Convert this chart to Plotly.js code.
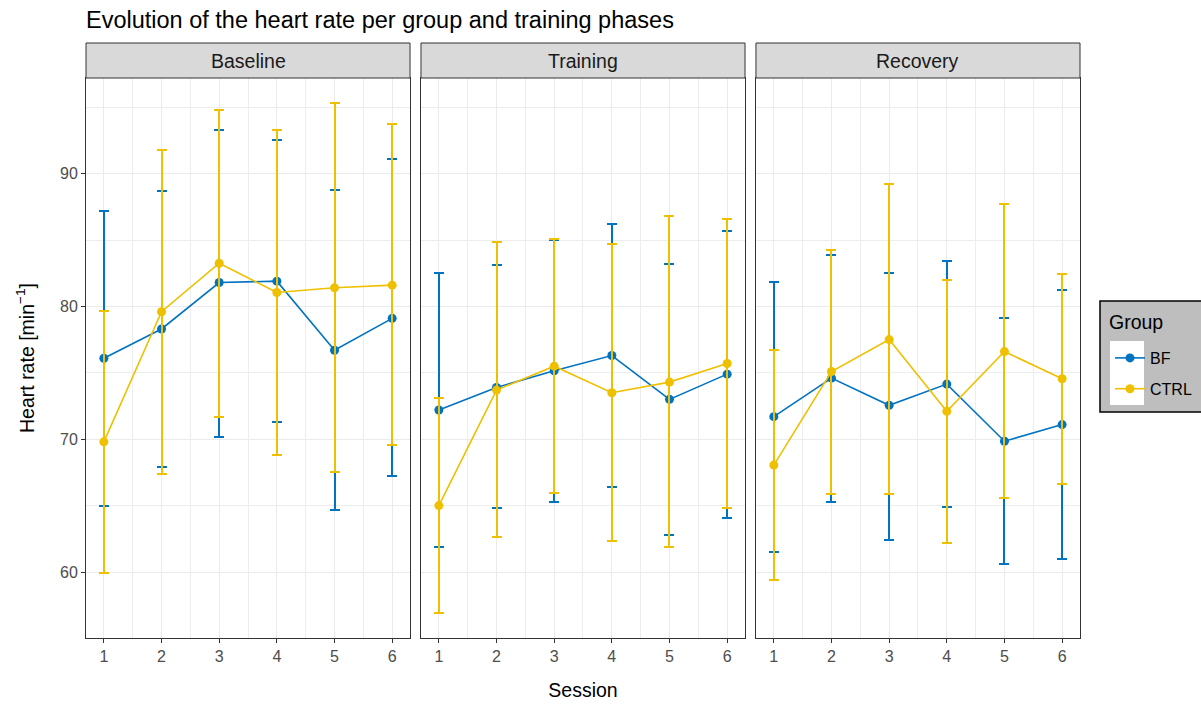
<!DOCTYPE html>
<html>
<head>
<meta charset="utf-8">
<script src="https://cdn.plot.ly/plotly-3.0.1.min.js"></script>
<style>
html,body{margin:0;padding:0;background:#fff;}
#chart{width:1201px;height:704px;}
#chart .errorbar path{shape-rendering:crispEdges;}
</style>
</head>
<body>
<div id="chart"></div>
<script>
const sessions = [1, 2, 3, 4, 5, 6];
const phases = ["Baseline", "Training", "Recovery"];
const groups = ["BF", "CTRL"];
const legendTitle = "Group";

// Baseline
const bfBaseMean  = [76.1, 78.3, 81.8, 81.9, 76.7, 79.1];
const bfBaseHigh  = [87.2, 88.7, 93.3, 92.5, 88.8, 91.1];
const bfBaseLow   = [65.0, 67.9, 70.2, 71.3, 64.7, 67.2];
const ctBaseMean  = [69.8, 79.6, 83.25, 81.05, 81.4, 81.6];
const ctBaseHigh  = [79.65, 91.8, 94.8, 93.3, 95.3, 93.7];
const ctBaseLow   = [59.9, 67.35, 71.7, 68.8, 67.5, 69.6];
// Training
const bfTrainMean = [72.2, 73.9, 75.15, 76.3, 73.0, 74.9];
const bfTrainHigh = [82.5, 83.1, 85.0, 86.2, 83.2, 85.65];
const bfTrainLow  = [61.9, 64.8, 65.3, 66.4, 62.8, 64.1];
const ctTrainMean = [65.0, 73.7, 75.5, 73.5, 74.3, 75.7];
const ctTrainHigh = [73.1, 84.85, 85.1, 84.7, 86.8, 86.6];
const ctTrainLow  = [56.9, 62.6, 65.95, 62.35, 61.9, 64.8];
// Recovery
const bfRecMean   = [71.7, 74.6, 72.55, 74.15, 69.85, 71.1];
const bfRecHigh   = [81.85, 83.9, 82.5, 83.45, 79.1, 81.2];
const bfRecLow    = [61.5, 65.3, 62.4, 64.9, 60.6, 61.0];
const ctRecMean   = [68.05, 75.1, 77.5, 72.1, 76.6, 74.55];
const ctRecHigh   = [76.7, 84.25, 89.2, 82.0, 87.7, 82.45];
const ctRecLow    = [59.4, 65.9, 65.9, 62.2, 65.6, 66.65];

const groupColors = {BF: "#0073C2", CTRL: "#EFC000"};
const FONT = "Liberation Sans, Arial, sans-serif";

const panelData = [
  {BF: [bfBaseMean, bfBaseHigh, bfBaseLow], CTRL: [ctBaseMean, ctBaseHigh, ctBaseLow]},
  {BF: [bfTrainMean, bfTrainHigh, bfTrainLow], CTRL: [ctTrainMean, ctTrainHigh, ctTrainLow]},
  {BF: [bfRecMean, bfRecHigh, bfRecLow], CTRL: [ctRecMean, ctRecHigh, ctRecLow]}
];

const traces = [];
panelData.forEach((pd, i) => {
  const ax = i === 0 ? "" : String(i + 1);
  groups.forEach(g => {
    const [m, hi, lo] = pd[g];
    traces.push({
      type: "scatter", mode: "lines+markers",
      x: sessions, y: m,
      xaxis: "x" + ax, yaxis: "y" + ax,
      name: g, legendgroup: g, showlegend: i === 0,
      line: {color: groupColors[g], width: 1.6},
      marker: {color: groupColors[g], size: 9},
      error_y: {
        type: "data", symmetric: false,
        array: hi.map((v, k) => v - m[k]),
        arrayminus: lo.map((v, k) => m[k] - v),
        color: groupColors[g], thickness: 2, width: 5
      },
      hoverinfo: "x+y+name"
    });
  });
});

const doms = [[0, 0.326], [0.337, 0.663], [0.674, 1]];
const xRange = [0.69, 6.31];
const yRange = [55.03, 97.2];

function xAxis(i) {
  const a = {
    domain: doms[i], range: xRange, anchor: i === 0 ? "y" : "y" + (i + 1),
    tickmode: "array", tickvals: sessions, ticktext: sessions.map(String),
    ticks: "outside", ticklen: 4, tickcolor: "#333333", tickwidth: 1,
    tickfont: {family: FONT, size: 16, color: "#4D4D4D"},
    showgrid: true, gridcolor: "#EBEBEB", gridwidth: 1.3,
    minor: {tickmode: "array", tickvals: [1.5, 2.5, 3.5, 4.5, 5.5], showgrid: true, gridcolor: "#EDEDED", gridwidth: 0.7, ticks: ""},
    showline: true, mirror: true, linecolor: "#333333", linewidth: 1,
    zeroline: false, fixedrange: true
  };
  if (i === 1) {
    a.title = {text: "Session", standoff: 19, font: {family: FONT, size: 19.5, color: "#000000"}};
  }
  return a;
}
function yAxis(i) {
  const a = {
    domain: [0, 1], range: yRange, anchor: i === 0 ? "x" : "x" + (i + 1),
    tickmode: "array", tickvals: [60, 70, 80, 90],
    showgrid: true, gridcolor: "#EBEBEB", gridwidth: 1.3,
    minor: {tickmode: "array", tickvals: [65, 75, 85, 95], showgrid: true, gridcolor: "#EDEDED", gridwidth: 0.7, ticks: ""},
    showline: true, mirror: true, linecolor: "#333333", linewidth: 1,
    zeroline: false, fixedrange: true,
    tickfont: {family: FONT, size: 16, color: "#4D4D4D"}
  };
  if (i === 0) {
    a.ticks = "outside"; a.ticklen = 4; a.tickcolor = "#333333"; a.tickwidth = 1;
    a.title = {text: "Heart rate [min<sup>−1</sup>]", standoff: 20, font: {family: FONT, size: 19.5, color: "#000000"}};
  } else {
    a.matches = "y"; a.showticklabels = false; a.ticks = "";
  }
  return a;
}

const shapes = [];
const annotations = [];
const stripTop = 1 + 35 / 560;
phases.forEach((p, i) => {
  shapes.push({type: "rect", xref: "paper", yref: "paper", x0: doms[i][0], x1: doms[i][1], y0: 1, y1: stripTop,
    fillcolor: "#D9D9D9", line: {color: "#333333", width: 1}, layer: "above"});
  annotations.push({xref: "paper", yref: "paper", x: (doms[i][0] + doms[i][1]) / 2, y: (1 + stripTop) / 2,
    xanchor: "center", yanchor: "middle", text: p, showarrow: false,
    font: {family: FONT, size: 19.5, color: "#1A1A1A"}});
});
// legend box, key background and title
const px2x = px => (px - 86) / 994;
const px2y = py => (638 - py) / 560;
shapes.push({type: "rect", xref: "paper", yref: "paper", x0: px2x(1100), x1: px2x(1215), y0: px2y(301), y1: px2y(412),
  fillcolor: "#BEBEBE", line: {color: "#000000", width: 1.5}, layer: "above"});
shapes.push({type: "rect", xref: "paper", yref: "paper", x0: px2x(1110), x1: px2x(1144), y0: px2y(341), y1: px2y(405),
  fillcolor: "#FFFFFF", line: {width: 0}, layer: "above"});
annotations.push({xref: "paper", yref: "paper", x: px2x(1107), y: px2y(322), xanchor: "left", yanchor: "middle",
  text: legendTitle, showarrow: false, font: {family: FONT, size: 19.5, color: "#000000"}});

const layout = {
  width: 1201, height: 704,
  margin: {l: 86, r: 121, t: 78, b: 66},
  paper_bgcolor: "#FFFFFF", plot_bgcolor: "#FFFFFF",
  font: {family: FONT, color: "#000000"},
  title: {text: "Evolution of the heart rate per group and training phases", xref: "paper", x: 0, xanchor: "left",
    yref: "container", y: 1 - 20 / 704, yanchor: "middle",
    font: {family: FONT, size: 23.5, color: "#000000"}},
  xaxis: xAxis(0), xaxis2: xAxis(1), xaxis3: xAxis(2),
  yaxis: yAxis(0), yaxis2: yAxis(1), yaxis3: yAxis(2),
  showlegend: true,
  legend: {
    xref: "container", yref: "container",
    x: 1110 / 1201, y: 1 - 341 / 704, xanchor: "left", yanchor: "top",
    bgcolor: "rgba(0,0,0,0)", borderwidth: 0,
    font: {family: FONT, size: 16, color: "#000000"},
    itemwidth: 30, tracegroupgap: 7
  },
  shapes: shapes, annotations: annotations,
  hovermode: "closest"
};

Plotly.newPlot("chart", traces, layout, {displayModeBar: false});
</script>
</body>
</html>
